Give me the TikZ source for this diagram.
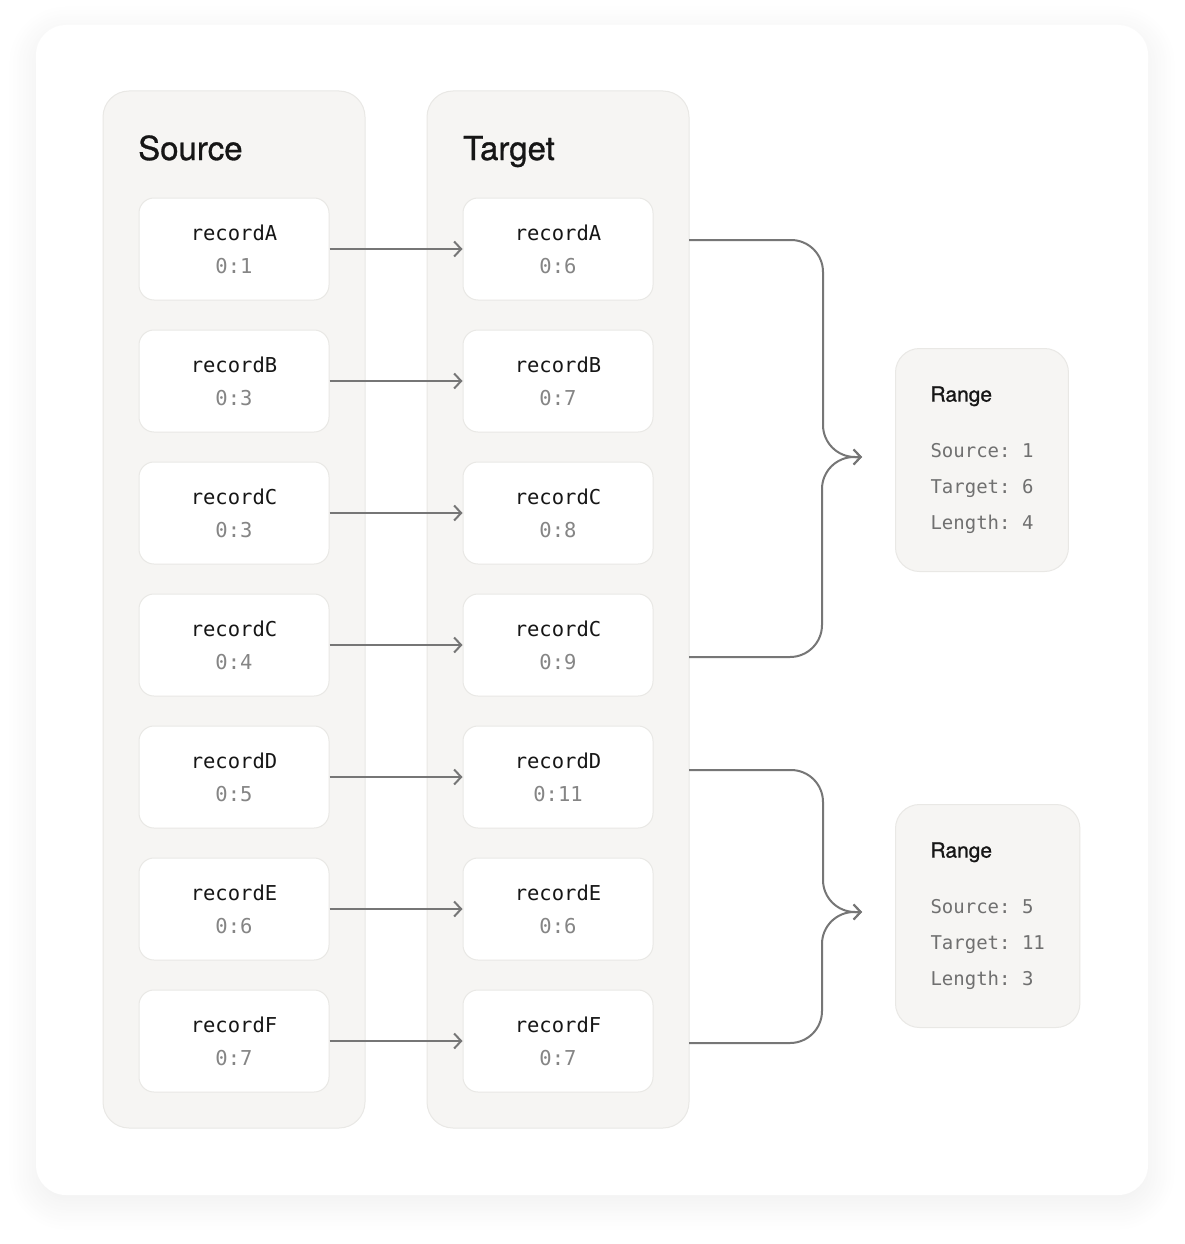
\documentclass[tikz,border=0pt]{standalone}
\usepackage{fontspec}
\setmainfont{TeX Gyre Heros}
\setmonofont{DejaVu Sans Mono}
\newfontfamily\headfont{TeX Gyre Heros}[FakeBold=0.9]
\usetikzlibrary{arrows.meta,shadows.blur}
\definecolor{panel}{HTML}{F6F5F3}
\definecolor{edge}{HTML}{E9E8E5}
\definecolor{ink}{HTML}{161616}
\definecolor{muted}{HTML}{858585}
\definecolor{label}{HTML}{707070}
\definecolor{wire}{HTML}{767676}
\newcommand{\ver}[1]{\textcolor{muted}{#1}}
\newcommand{\rhead}[1]{{\headfont\fontsize{21}{36}\selectfont\color{ink}#1}}

\begin{document}
\begin{tikzpicture}[x=1pt,y=-1pt,
    card/.style={fill=white, rounded corners=30pt},
    column/.style={draw=edge, line width=1pt, fill=panel, rounded corners=26pt,
      minimum width=262pt, minimum height=1037pt},
    rec/.style={draw=edge, line width=1pt, fill=white, rounded corners=15pt,
      minimum width=190pt, minimum height=102pt, align=center, text=ink,
      font=\ttfamily\fontsize{20.5}{33}\selectfont},
    title/.style={anchor=base west, inner sep=0pt, text=ink,
      font=\headfont\fontsize{33}{40}\selectfont},
    rangebox/.style={draw=edge, line width=1pt, fill=panel, rounded corners=24pt,
      anchor=west, minimum height=223pt, inner xsep=35pt, align=left,
      text=label, font=\ttfamily\fontsize{19}{36}\selectfont},
    link/.style={draw=wire, line width=2pt, -{Straight Barb[length=7pt,width=15pt]}},
    brace/.style={link, rounded corners=32pt}]
    \useasboundingbox (0,0) rectangle (1185,1244);
    \def\sx{234} \def\tx{558}
    \def\ya{249} \def\yb{381} \def\yc{513} \def\yd{645}
    \def\ye{777} \def\yf{909} \def\yg{1041}

    % card and the two columns
    \path[card, blur shadow={shadow xshift=0pt, shadow yshift=-8pt,
      shadow blur radius=28pt, shadow blur steps=24, shadow opacity=7}]
      (36,25) rectangle (1148,1195);
    \node[column] (colS) at (\sx,609.5) {}; \node[column] (colT) at (\tx,609.5) {};
    \node[title] (hS) at (138,160) {Source}; \node[title] (hT) at (463,160) {Target};

    % source records
    \node[rec] (sA) at (\sx,\ya) {recordA\\\ver{0:1}};
    \node[rec] (sB) at (\sx,\yb) {recordB\\\ver{0:3}};
    \node[rec] (sC) at (\sx,\yc) {recordC\\\ver{0:3}};
    \node[rec] (sD) at (\sx,\yd) {recordC\\\ver{0:4}};
    \node[rec] (sE) at (\sx,\ye) {recordD\\\ver{0:5}};
    \node[rec] (sF) at (\sx,\yf) {recordE\\\ver{0:6}};
    \node[rec] (sG) at (\sx,\yg) {recordF\\\ver{0:7}};

    % target records
    \node[rec] (tA) at (\tx,\ya) {recordA\\\ver{0:6}};
    \node[rec] (tB) at (\tx,\yb) {recordB\\\ver{0:7}};
    \node[rec] (tC) at (\tx,\yc) {recordC\\\ver{0:8}};
    \node[rec] (tD) at (\tx,\yd) {recordC\\\ver{0:9}};
    \node[rec] (tE) at (\tx,\ye) {recordD\\\ver{0:11}};
    \node[rec] (tF) at (\tx,\yf) {recordE\\\ver{0:6}};
    \node[rec] (tG) at (\tx,\yg) {recordF\\\ver{0:7}};

    \draw[link] (sA) -- (tA); \draw[link] (sB) -- (tB); \draw[link] (sC) -- (tC);
    \draw[link] (sD) -- (tD); \draw[link] (sE) -- (tE); \draw[link] (sF) -- (tF);
    \draw[link] (sG) -- (tG);

    % ranges
    \node[rangebox] (rgA) at (895,460)
      {\rhead{Range}\\[20pt]Source: 1\\Target: 6\\Length: 4};
    \node[rangebox] (rgB) at (895,916)
      {\rhead{Range}\\[20pt]Source: 5\\Target: 11\\Length: 3};

    \coordinate (pA) at (689,240); \coordinate (pD) at (689,657);
    \coordinate (pE) at (689,770); \coordinate (pG) at (689,1043);
    \coordinate (jA) at (862,457); \coordinate (jB) at (862,912);

    \draw[brace] (pA) -- (823,240) -- (823,457) -- (jA);
    \draw[brace] (pD) -- (822,657) -- (822,457) -- (jA);
    \draw[brace] (pE) -- (823,770) -- (823,912) -- (jB);
    \draw[brace] (pG) -- (822,1043) -- (822,912) -- (jB);
\end{tikzpicture}
\end{document}
